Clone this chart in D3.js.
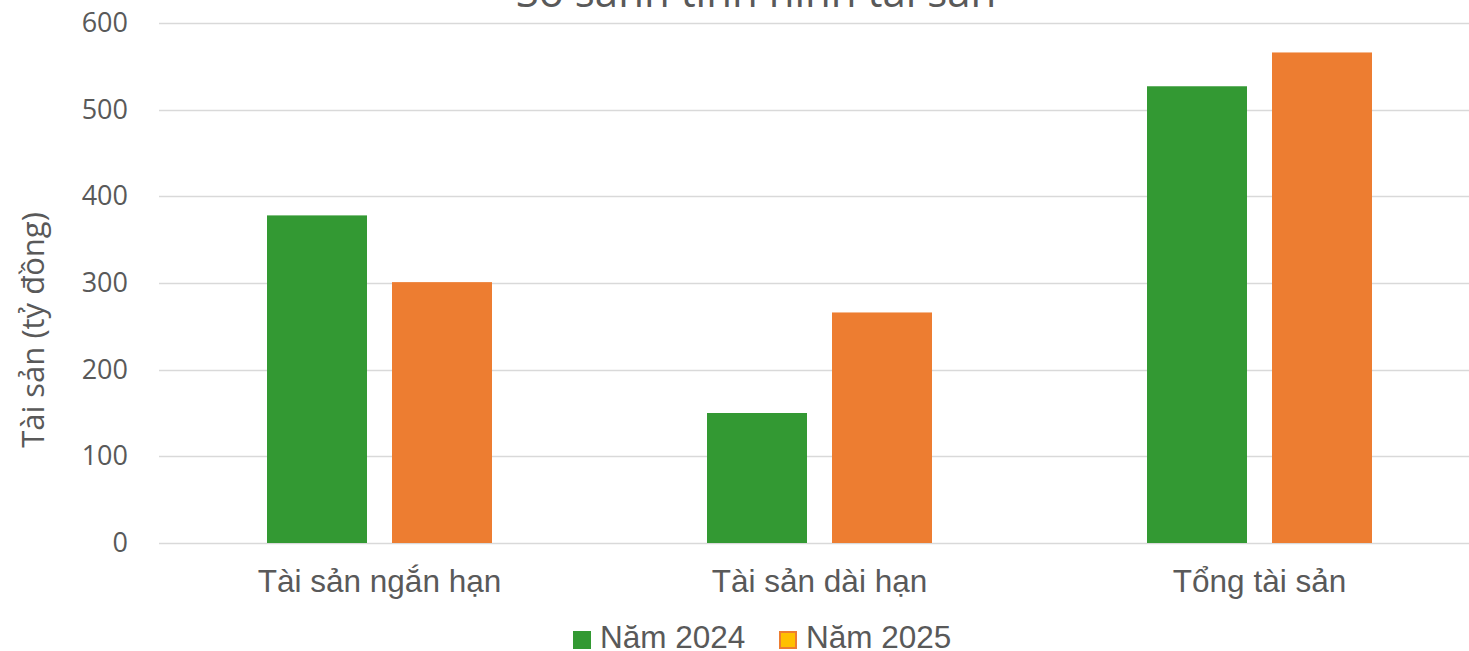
<!DOCTYPE html>
<html>
<head>
<meta charset="utf-8">
<script src="https://cdn.jsdelivr.net/npm/d3@7"></script>
<style>
	body { margin: 0; background: #fff; }
	svg { display: block; }
</style>
</head>
<body>
<div id="viz"></div>
<script>
const categories = ['Tài sản ngắn hạn', 'Tài sản dài hạn', 'Tổng tài sản']
const series = ['Năm 2024', 'Năm 2025']
const values_2024 = [378, 150, 527]
const values_2025 = [301, 266, 566]
const y_ticks = [0, 100, 200, 300, 400, 500, 600]

const WIDTH = 1469
const HEIGHT = 651
const TEXT = '#595959'
const COLORS = ['#339933', '#ED7D31']

const rows = categories.map((c, i) => ({
	category: c,
	values: [values_2024[i], values_2025[i]]
}))

const svg = d3.select('#viz')
	.append('svg')
	.attr('width', WIDTH)
	.attr('height', HEIGHT)

// plot area runs a bit past the right edge of the window
const x0 = d3.scaleBand()
	.domain(categories)
	.range([159.5, 1479.5])

const x1 = d3.scaleBand()
	.domain(series)
	.range([107.5, 332.5])
	.paddingInner(0.2)

const y = d3.scaleLinear()
	.domain([0, 600])
	.range([543, 23])

// title, mostly cut off at the top
svg.append('text')
	.attr('x', 756)
	.attr('y', 7)
	.attr('text-anchor', 'middle')
	.style('font-family', 'Open Sans')
	.style('font-size', '42px')
	.style('fill', TEXT)
	.text('So sánh tình hình tài sản')

// gridlines
svg.append('g')
	.selectAll('line')
	.data(y_ticks)
	.enter()
	.append('line')
	.attr('x1', 159)
	.attr('x2', WIDTH)
	.attr('y1', (d) => Math.round(y(d)) + 0.5)
	.attr('y2', (d) => Math.round(y(d)) + 0.5)
	.style('stroke', '#D9D9D9')
	.style('stroke-width', 1.5)

// y axis labels
const y_axis = svg.append('g')
	.attr('transform', 'translate(136,0)')
	.call(d3.axisLeft(y).tickValues(y_ticks).tickSize(0).tickPadding(8))
y_axis.select('.domain').remove()
y_axis.selectAll('text')
	.style('font-family', 'Open Sans')
	.style('font-size', '27px')
	.style('fill', TEXT)

svg.append('text')
	.attr('transform', 'translate(44,330) rotate(-90)')
	.attr('text-anchor', 'middle')
	.style('font-family', 'Open Sans')
	.style('font-size', '31px')
	.style('fill', TEXT)
	.text('Tài sản (tỷ đồng)')

// bars
const groups = svg.append('g')
	.selectAll('g')
	.data(rows)
	.enter()
	.append('g')
	.attr('transform', (d) => `translate(${x0(d.category)},0)`)

groups.selectAll('rect')
	.data((d) => d.values.map((v, i) => ({ key: series[i], value: v, i: i })))
	.enter()
	.append('rect')
	.attr('x', (d) => x1(d.key))
	.attr('width', x1.bandwidth())
	.attr('y', (d) => y(d.value))
	.attr('height', (d) => y(0) - y(d.value))
	.style('fill', (d) => COLORS[d.i])

// category labels
const x_axis = svg.append('g')
	.attr('transform', `translate(0,${y(0)})`)
	.call(d3.axisBottom(x0).tickSize(0).tickPadding(27))
x_axis.select('.domain').remove()
x_axis.selectAll('text')
	.attr('dy', '0.71em')
	.style('font-family', 'Liberation Sans')
	.style('font-size', '31.5px')
	.style('fill', TEXT)

// legend
const legend_items = [
	{ label: series[0], x: 573, fill: '#339933', stroke: 'none' },
	{ label: series[1], x: 779, fill: '#FFC000', stroke: '#ED7D31' }
]
const legend = svg.append('g')
	.selectAll('g')
	.data(legend_items)
	.enter()
	.append('g')
	.attr('transform', (d) => `translate(${d.x},631)`)

legend.append('rect')
	.attr('x', (d) => (d.stroke === 'none' ? 0 : 1))
	.attr('y', (d) => (d.stroke === 'none' ? 0 : 1))
	.attr('width', (d) => (d.stroke === 'none' ? 18 : 16))
	.attr('height', (d) => (d.stroke === 'none' ? 18 : 16))
	.style('fill', (d) => d.fill)
	.style('stroke', (d) => d.stroke)
	.style('stroke-width', 2)

legend.append('text')
	.attr('x', 27)
	.attr('y', 17)
	.style('font-family', 'Liberation Sans')
	.style('font-size', '31.5px')
	.style('fill', TEXT)
	.text((d) => d.label)
</script>
</body>
</html>
